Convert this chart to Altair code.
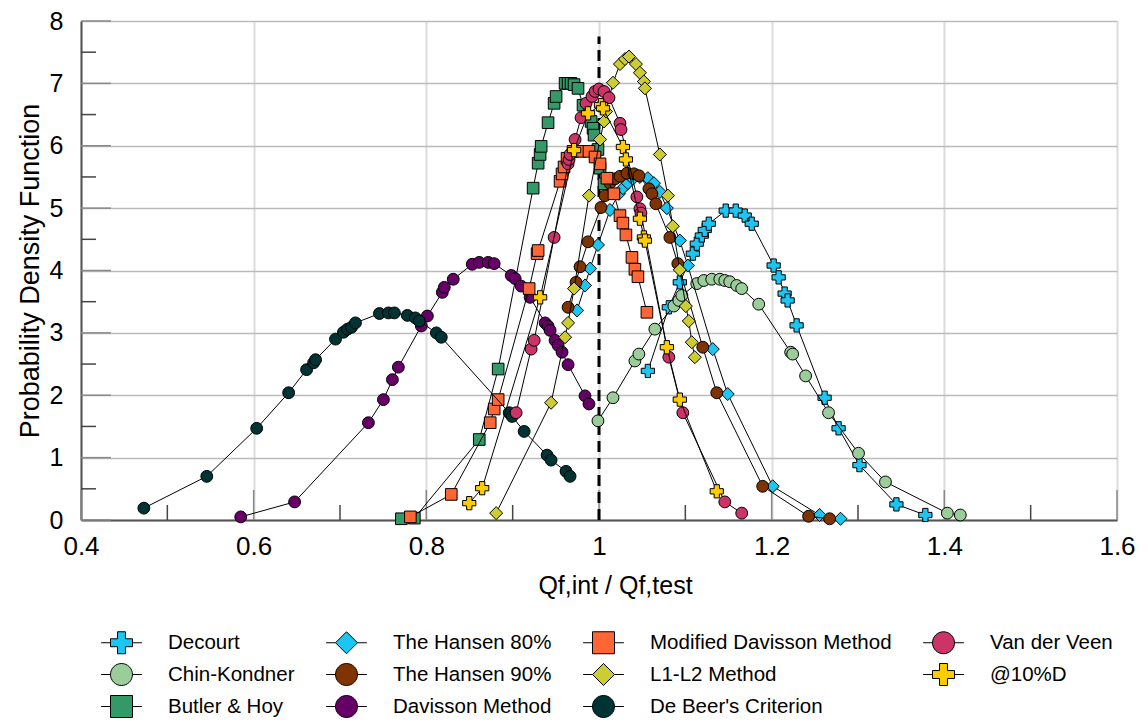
import altair as alt
import pandas as pd

# ---------------- data ----------------
series_names = ["Decourt", "Chin-Kondner", "Butler & Hoy", "The Hansen 80%", "The Hansen 90%",
                "Davisson Method", "Modified Davisson Method", "L1-L2 Method",
                "De Beer's Criterion", "Van der Veen", "@10%D"]
fill_colors = ["#1CC6F2", "#9ACD9A", "#339966", "#1CC6F2", "#7F3300",
               "#660066", "#FF6633", "#CCCC33", "#003333", "#CC3366", "#FFCC00"]
shapes = ["cross", "circle", "square", "diamond", "circle",
          "circle", "square", "diamond", "circle", "circle", "cross"]

decourt_x = [1.0566, 1.0809, 1.0936, 1.1087, 1.1133, 1.1191, 1.1225, 1.1272, 1.1468, 1.1584, 1.1688,
             1.1769, 1.2023, 1.2081, 1.2150, 1.2185, 1.2289, 1.2613, 1.2775, 1.3017, 1.3445, 1.3780]
decourt_y = [2.39, 3.41, 3.81, 4.27, 4.43, 4.56, 4.65, 4.75, 4.96, 4.96, 4.88,
             4.75, 4.08, 3.89, 3.63, 3.52, 3.12, 1.96, 1.47, 0.88, 0.25, 0.08]

chin_x = [0.9988, 1.0162, 1.0416, 1.0462, 1.0647, 1.0867, 1.0925, 1.0960, 1.1133, 1.1214, 1.1306, 1.1399,
          1.1457, 1.1514, 1.1595, 1.1653, 1.1850, 1.2220, 1.2243, 1.2393, 1.2659, 1.3006, 1.3318, 1.4035, 1.4185]
chin_y = [1.59, 1.96, 2.55, 2.66, 3.06, 3.43, 3.52, 3.60, 3.79, 3.84, 3.86, 3.86,
          3.84, 3.82, 3.76, 3.71, 3.46, 2.69, 2.66, 2.31, 1.72, 1.07, 0.61, 0.11, 0.08]

butler_x = [0.7711, 0.7861, 0.8613, 0.8832, 0.9237, 0.9295, 0.9318, 0.9330, 0.9410, 0.9480, 0.9503, 0.9607,
            0.9642, 0.9676, 0.9711, 0.9757, 0.9815, 0.9908, 0.9931, 0.9942, 0.9988, 1.0012, 1.0058]
butler_y = [0.02, 0.03, 1.29, 2.42, 5.32, 5.72, 5.86, 5.99, 6.37, 6.68, 6.79, 7.00,
            7.00, 7.00, 6.98, 6.92, 6.65, 6.39, 6.28, 6.17, 5.94, 5.64, 5.39]

hansen80_x = [0.9746, 0.9838, 0.9896, 0.9988, 1.0127, 1.0231, 1.0277, 1.0335, 1.0393, 1.0474, 1.0566,
              1.0636, 1.0705, 1.0786, 1.0936, 1.1029, 1.1318, 1.1491, 1.2012, 1.2555, 1.2798]
hansen80_y = [3.36, 3.76, 4.03, 4.41, 4.97, 5.23, 5.32, 5.40, 5.47, 5.50, 5.48,
              5.40, 5.26, 5.00, 4.48, 4.08, 2.74, 2.02, 0.54, 0.08, 0.02]

hansen90_x = [0.9642, 0.9734, 0.9780, 0.9873, 1.0023, 1.0069, 1.0127, 1.0185, 1.0243, 1.0324, 1.0405,
              1.0462, 1.0578, 1.0613, 1.0659, 1.0821, 1.0913, 1.1202, 1.1364, 1.1896, 1.2428, 1.2671]
hansen90_y = [3.41, 3.81, 4.06, 4.46, 5.01, 5.20, 5.40, 5.47, 5.51, 5.56, 5.55,
              5.52, 5.31, 5.23, 5.07, 4.53, 4.11, 2.77, 2.04, 0.54, 0.06, 0.02]

davisson_x = [0.5850, 0.6474, 0.7329, 0.7503, 0.7607, 0.7676, 0.7942, 0.8012, 0.8185, 0.8208, 0.8312,
              0.8532, 0.8613, 0.8717, 0.8786, 0.8983, 0.9029, 0.9098, 0.9202, 0.9376, 0.9410, 0.9434,
              0.9491, 0.9526, 0.9572, 0.9642, 0.9838, 0.9884]
davisson_y = [0.05, 0.29, 1.56, 1.93, 2.25, 2.45, 3.11, 3.27, 3.65, 3.73, 3.86,
              4.10, 4.13, 4.13, 4.11, 3.92, 3.87, 3.75, 3.57, 3.16, 3.11, 3.04,
              2.88, 2.80, 2.69, 2.49, 1.99, 1.86]

moddav_x = [0.7815, 0.8289, 0.8740, 0.8786, 0.8832, 0.9191, 0.9283, 0.9295, 0.9549, 0.9572, 0.9595, 0.9630,
            0.9699, 0.9780, 0.9884, 0.9954, 1.0012, 1.0092, 1.0173, 1.0243, 1.0277, 1.0312, 1.0382,
            1.0416, 1.0451, 1.0555]
moddav_y = [0.05, 0.41, 1.56, 1.78, 1.93, 3.71, 4.27, 4.32, 5.43, 5.55, 5.66, 5.80,
            5.91, 5.91, 5.91, 5.82, 5.71, 5.48, 5.23, 4.88, 4.76, 4.57, 4.21,
            4.02, 3.90, 3.33]

l1l2_x = [0.8809, 0.9445, 0.9607, 0.9642, 0.9711, 0.9884, 1.0012, 1.0058, 1.0081, 1.0162, 1.0243, 1.0301,
          1.0347, 1.0428, 1.0474, 1.0520, 1.0532, 1.0705, 1.0798, 1.0855, 1.0936, 1.1006, 1.1040,
          1.1075, 1.1110]
l1l2_y = [0.11, 1.88, 2.93, 3.16, 3.71, 5.20, 6.10, 6.39, 6.55, 7.01, 7.31, 7.39,
          7.43, 7.31, 7.17, 7.03, 6.92, 5.86, 5.20, 4.71, 4.01, 3.43, 3.19,
          2.85, 2.61]

debeer_x = [0.4728, 0.5457, 0.6035, 0.6405, 0.6613, 0.6694, 0.6717, 0.6948, 0.7040, 0.7087, 0.7133, 0.7179,
            0.7457, 0.7561, 0.7630, 0.7780, 0.7873, 0.7919, 0.8116, 0.8173, 0.8960, 0.8994, 0.9133,
            0.9399, 0.9445, 0.9618, 0.9665]
debeer_y = [0.19, 0.70, 1.47, 2.04, 2.41, 2.52, 2.57, 2.90, 3.01, 3.06, 3.09, 3.16,
            3.31, 3.32, 3.32, 3.28, 3.24, 3.19, 3.00, 2.93, 1.72, 1.66, 1.42,
            1.04, 0.96, 0.78, 0.70]

vdv_x = [0.9040, 0.9214, 0.9249, 0.9480, 0.9642, 0.9653, 0.9665, 0.9723, 0.9792, 0.9850, 0.9919, 0.9954,
         1.0000, 1.0058, 1.0116, 1.0243, 1.0255, 1.0439, 1.0474, 1.0486, 1.0809, 1.0971, 1.1457, 1.1653]
vdv_y = [1.72, 2.74, 2.88, 4.53, 5.71, 5.78, 5.86, 6.10, 6.45, 6.68, 6.79, 6.87,
         6.91, 6.87, 6.77, 6.36, 6.26, 5.18, 4.99, 4.92, 2.61, 1.72, 0.29, 0.11]

d10_x = [0.8497, 0.8647, 0.9318, 0.9711, 0.9873, 1.0023, 1.0046, 1.0277, 1.0312, 1.0474, 1.0520,
         1.0532, 1.0786, 1.0936, 1.1364]
d10_y = [0.27, 0.51, 3.57, 5.93, 6.52, 6.65, 6.60, 5.98, 5.78, 4.83, 4.53,
         4.48, 2.77, 1.93, 0.46]

series_x = [decourt_x, chin_x, butler_x, hansen80_x, hansen90_x, davisson_x,
            moddav_x, l1l2_x, debeer_x, vdv_x, d10_x]
series_y = [decourt_y, chin_y, butler_y, hansen80_y, hansen90_y, davisson_y,
            moddav_y, l1l2_y, debeer_y, vdv_y, d10_y]

ref_x = [1.0]
ref_y = [0.0, 7.75]

x_major = [0.4, 0.6, 0.8, 1.0, 1.2, 1.4, 1.6]
x_minor = [0.5, 0.7, 0.9, 1.1, 1.3, 1.5]
y_major = [0, 1, 2, 3, 4, 5, 6, 7, 8]
y_minor = [0.5, 1.5, 2.5, 3.5, 4.5, 5.5, 6.5, 7.5]

# ---------------- tables ----------------
rows = []
for name, xs, ys in zip(series_names, series_x, series_y):
    for xv, yv in zip(xs, ys):
        rows.append({"series": name, "x": xv, "y": yv})
df = pd.DataFrame(rows)

# legend fills row-major with 4 columns -> reorder so columns read like the reference
legend_order = [series_names[i] for i in [0, 3, 6, 9, 1, 4, 7, 10, 2, 5, 8]]
color_of = dict(zip(series_names, fill_colors))
shape_of = dict(zip(series_names, shapes))

# legend symbols: marker with a short line through it (like the line+marker series)
LINE = "M-1.85,0H-1M1,0H1.85"
legend_path = {
    "circle": LINE + "M-1,0A1,1,0,1,1,1,0A1,1,0,1,1,-1,0Z",
    "square": LINE + "M-1,-1H1V1H-1Z",
    "diamond": LINE + "M-1,0L0,-1L1,0L0,1Z",
    "cross": LINE + "M-1,-0.36H-0.36V-1H0.36V-0.36H1V0.36H0.36V1H-0.36V0.36H-1Z",
}

FONT = "Liberation Sans"
W, H = 1036, 499

x_scale = alt.Scale(domain=[0.4, 1.6], nice=False, zero=False)
y_scale = alt.Scale(domain=[0, 8], nice=False)
x_axis = alt.Axis(values=x_major, format=".1~f", ticks=False, labelFontSize=26, labelFont=FONT,
                  labelColor="black", labelPadding=13, labelFlush=False, domainColor="#555555", domainWidth=2,
                  grid=True, gridColor="#DCDCDC", gridWidth=2,
                  title="Qf,int / Qf,test", titleFont=FONT, titleFontSize=25, titleX=534,
                  titleFontWeight="normal", titleColor="black", titlePadding=14)
y_axis = alt.Axis(values=y_major, format="d", ticks=False, labelFontSize=25, labelFont=FONT,
                  labelColor="black", labelPadding=18, labelFlush=False, domainColor="#555555", domainWidth=2,
                  grid=True, gridColor="#BBBBBB", gridWidth=1.5,
                  title="Probability Density Function", titleFont=FONT, titleFontSize=27,
                  titleFontWeight="normal", titleColor="black", titlePadding=5)

legend = alt.Legend(orient="none", legendX=29, legendY=610, columns=4, direction="horizontal",
                    title=None, symbolSize=484, symbolStrokeColor="black", symbolStrokeWidth=1,
                    labelFont=FONT, labelFontSize=20.5, labelColor="black", labelOffset=35,
                    columnPadding=29, rowPadding=5, padding=0, labelLimit=400)

X = alt.X("x:Q", scale=x_scale, axis=x_axis)
Y = alt.Y("y:Q", scale=y_scale, axis=y_axis)
FILL = alt.Fill("series:N", scale=alt.Scale(domain=legend_order,
                range=[color_of[n] for n in legend_order]), legend=None)
SHAPE = alt.Shape("series:N", scale=alt.Scale(domain=legend_order,
                  range=[shape_of[n] for n in legend_order]), legend=None)
LFILL = alt.Fill("series:N", scale=alt.Scale(domain=legend_order,
                 range=[color_of[n] for n in legend_order]), legend=legend)
LSHAPE = alt.Shape("series:N", scale=alt.Scale(domain=legend_order,
                   range=[legend_path[shape_of[n]] for n in legend_order]), legend=legend)
LSTROKE = alt.Stroke("series:N", scale=alt.Scale(domain=legend_order,
                     range=["black"] * len(legend_order)), legend=legend)

size_of_shape = {"circle": 140, "square": 135, "diamond": 170, "cross": 175}

base = alt.Chart(df)
layers = []

# inside tick marks
xt_major = alt.Chart(pd.DataFrame({"x": x_major})).mark_rule(color="#888888", strokeWidth=1.5).encode(
    x=X, y=alt.value(H), y2=alt.value(H - 30))
xt_minor = alt.Chart(pd.DataFrame({"x": x_minor})).mark_rule(color="#444444", strokeWidth=1.5).encode(
    x=X, y=alt.value(H), y2=alt.value(H - 15))
yt_major = alt.Chart(pd.DataFrame({"y": y_major})).mark_rule(color="#888888", strokeWidth=1.5).encode(
    y=Y, x=alt.value(0), x2=alt.value(30))
yt_minor = alt.Chart(pd.DataFrame({"y": y_minor})).mark_rule(color="#444444", strokeWidth=1.5).encode(
    y=Y, x=alt.value(0), x2=alt.value(15))
layers += [xt_major, xt_minor, yt_major, yt_minor]

# dashed reference line at 1
ref_df = pd.DataFrame({"x": ref_x, "y": [ref_y[0]], "y2": [ref_y[1]]})
ref = alt.Chart(ref_df).mark_rule(color="black", strokeWidth=3, strokeDash=[11, 6]).encode(
    x=X, y=Y, y2="y2:Q")
layers.append(ref)

for name in series_names:
    sub = base.transform_filter(alt.datum.series == name)
    line = sub.mark_line(color="black", strokeWidth=1).encode(x=X, y=Y)
    pts = sub.mark_point(filled=True, stroke="black", strokeWidth=1, opacity=1, fillOpacity=1,
                         strokeOpacity=1, size=size_of_shape[shape_of[name]]).encode(
        x=X, y=Y, fill=FILL, shape=SHAPE)
    layers += [line, pts]

# legend-only layer (no data rows drawn)
legend_layer = base.transform_filter("false").mark_point(
    filled=True, strokeWidth=1, opacity=1).encode(
    x=X, y=Y, fill=LFILL, shape=LSHAPE, stroke=LSTROKE)
layers.append(legend_layer)

chart = alt.layer(*layers).resolve_scale(
    fill="independent", shape="independent", stroke="independent"
).properties(
    width=W, height=H,
    autosize=alt.AutoSizeParams(type="none"),
    padding={"left": 73, "top": 13, "right": 20, "bottom": 199},
    background="white",
).configure_view(stroke=None)

chart.save("out.html", embed_options={"renderer": "svg", "actions": False})
